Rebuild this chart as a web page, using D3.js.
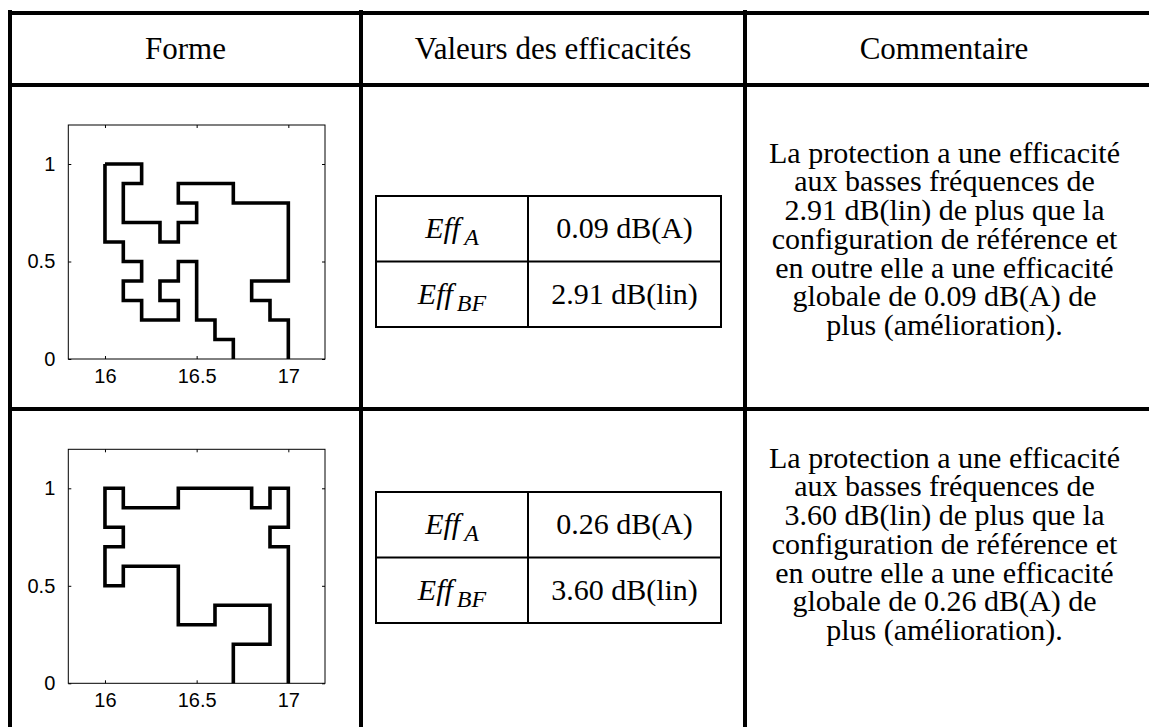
<!DOCTYPE html>
<html><head><meta charset="utf-8">
<script src="https://cdn.jsdelivr.net/npm/d3@7"></script>
<style>body{margin:0;background:#fff}svg{display:block}</style>
</head><body>
<svg id="c" width="1149" height="727"></svg>
<script>
// ---------- data ----------
const headers = ["Forme", "Valeurs des efficacités", "Commentaire"];
const xTicks = [16, 16.5, 17];
const yTicks = [0, 0.5, 1];
const xTickLabels = ["16", "16.5", "17"];
const yTickLabels = ["0", "0.5", "1"];
// shape 1 : two step polylines (x, y)
const shape1Outer = [[16.0,1.0],[16.2,1.0],[16.2,0.9],[16.1,0.9],[16.1,0.7],[16.3,0.7],[16.3,0.6],[16.4,0.6],[16.4,0.7],[16.5,0.7],[16.5,0.8],[16.4,0.8],[16.4,0.9],[16.7,0.9],[16.7,0.8],[17.0,0.8],[17.0,0.4],[16.8,0.4],[16.8,0.3],[16.9,0.3],[16.9,0.2],[17.0,0.2],[17.0,0.0]];
const shape1Inner = [[16.0,1.0],[16.0,0.6],[16.1,0.6],[16.1,0.5],[16.2,0.5],[16.2,0.4],[16.1,0.4],[16.1,0.3],[16.2,0.3],[16.2,0.2],[16.4,0.2],[16.4,0.3],[16.3,0.3],[16.3,0.4],[16.4,0.4],[16.4,0.5],[16.5,0.5],[16.5,0.2],[16.6,0.2],[16.6,0.1],[16.7,0.1],[16.7,0.0]];
// shape 2 : one step polyline
const shape2 = [[17.0,0.0],[17.0,0.7],[16.9,0.7],[16.9,0.8],[17.0,0.8],[17.0,1.0],[16.9,1.0],[16.9,0.9],[16.8,0.9],[16.8,1.0],[16.4,1.0],[16.4,0.9],[16.1,0.9],[16.1,1.0],[16.0,1.0],[16.0,0.8],[16.1,0.8],[16.1,0.7],[16.0,0.7],[16.0,0.5],[16.1,0.5],[16.1,0.6],[16.4,0.6],[16.4,0.3],[16.6,0.3],[16.6,0.4],[16.9,0.4],[16.9,0.2],[16.7,0.2],[16.7,0.0]];
const effSubscripts = ["A", "BF"];
const effAValues = ["0.09 dB(A)", "0.26 dB(A)"];
const effBFValues = ["2.91 dB(lin)", "3.60 dB(lin)"];
const comments1 = ["La protection a une efficacité","aux basses fréquences de","2.91 dB(lin) de plus que la","configuration de référence et","en outre elle a une efficacité","globale de 0.09 dB(A) de","plus (amélioration)."];
const comments2 = ["La protection a une efficacité","aux basses fréquences de","3.60 dB(lin) de plus que la","configuration de référence et","en outre elle a une efficacité","globale de 0.26 dB(A) de","plus (amélioration)."];

// ---------- layout ----------
const svg = d3.select("#c");
const W = 1149, H = 727;
const colX = [10, 361, 745, W];
const rowY = [13, 85, 409, H];
const serif = "Liberation Serif";
const sans = "Liberation Sans";

// outer table lines
const grid = svg.append("g").attr("stroke", "#000").attr("stroke-width", 4);
[rowY[0], rowY[1], rowY[2]].forEach(y => grid.append("line").attr("x1", colX[0]-2).attr("x2", W).attr("y1", y).attr("y2", y));
[colX[0], colX[1], colX[2]].forEach(x => grid.append("line").attr("x1", x).attr("x2", x).attr("y1", rowY[0]-3).attr("y2", H));

// headers
headers.forEach((h, i) => {
  svg.append("text").attr("x", (colX[i] + colX[i+1]) / 2 + (i===2?-3:0)).attr("y", 59)
    .attr("text-anchor", "middle").style("font-family", serif).style("font-size", "31px").text(h);
});

// ---------- plots ----------
const x = d3.scaleLinear().domain([15.8, 17.2]);
const y = d3.scaleLinear().domain([0, 1.2]);
function plot(top, series) {
  const L = 68.3, R = 325, T = top, B = top + 234;
  const xs = x.copy().range([L, R]);
  const ys = y.copy().range([B, T]);
  const g = svg.append("g");
  g.append("rect").attr("x", L).attr("y", T).attr("width", R-L).attr("height", B-T)
    .attr("fill", "#fff").attr("stroke", "#000").attr("stroke-width", 1);
  const ax = (gen, tr, vals, labels, pad) => {
    const a = g.append("g").attr("transform", tr)
      .call(gen.tickValues(vals).tickSizeInner(-3).tickSizeOuter(0).tickPadding(pad)
        .tickFormat((d, i) => labels ? labels[i] : ""));
    a.select(".domain").remove();
    a.attr("font-size", null).attr("font-family", null);
    a.selectAll("line").attr("stroke", "#000");
    a.selectAll("text").style("font-family", sans).style("font-size", "20px").attr("fill", "#000");
    return a;
  };
  ax(d3.axisBottom(xs), `translate(0,${B})`, xTicks, xTickLabels, 10);
  ax(d3.axisTop(xs), `translate(0,${T})`, xTicks, null, 8);
  ax(d3.axisLeft(ys), `translate(${L},0)`, yTicks, yTickLabels, 13);
  ax(d3.axisRight(ys), `translate(${R},0)`, yTicks, null, 8);
  const line = d3.line().x(d => xs(d[0])).y(d => ys(d[1]));
  series.forEach(s => g.append("path").attr("d", line(s)).attr("fill", "none")
    .attr("stroke", "#000").attr("stroke-width", 3.6).attr("stroke-linejoin", "miter"));
}
plot(125, [shape1Outer, shape1Inner]);
plot(449.3, [shape2]);

// ---------- inner efficiency tables ----------
function effTable(top, i) {
  const L = 376, M = 528, R = 721, rowH = 65.5;
  const g = svg.append("g");
  g.append("rect").attr("x", L).attr("y", top).attr("width", R-L).attr("height", rowH*2)
    .attr("fill", "none").attr("stroke", "#000").attr("stroke-width", 2);
  g.append("line").attr("x1", L).attr("x2", R).attr("y1", top+rowH).attr("y2", top+rowH).attr("stroke", "#000").attr("stroke-width", 2);
  g.append("line").attr("x1", M).attr("x2", M).attr("y1", top).attr("y2", top+rowH*2).attr("stroke", "#000").attr("stroke-width", 2);
  [effSubscripts[0], effSubscripts[1]].forEach((sub, k) => {
    const t = g.append("text").attr("x", (L+M)/2).attr("y", top + rowH*k + 42)
      .attr("text-anchor", "middle").style("font-family", serif).style("font-size", "30px").attr("font-style", "italic");
    t.append("tspan").text("Eff");
    t.append("tspan").attr("dx", 4).attr("dy", 7).style("font-size", "24px").text(sub);
  });
  [effAValues[i], effBFValues[i]].forEach((v, k) => {
    g.append("text").attr("x", (M+R)/2).attr("y", top + rowH*k + 42)
      .attr("text-anchor", "middle").style("font-family", serif).style("font-size", "30px").text(v);
  });
}
effTable(196, 0);
effTable(492, 1);

// ---------- comments ----------
function comment(lines, base) {
  const t = svg.append("text").style("font-family", serif).style("font-size", "30px").attr("text-anchor", "middle");
  lines.forEach((l, k) => t.append("tspan").attr("x", 944.5).attr("y", base + k*28.75).text(l));
}
comment(comments1, 162.7);
comment(comments2, 467.7);
</script>
</body></html>
